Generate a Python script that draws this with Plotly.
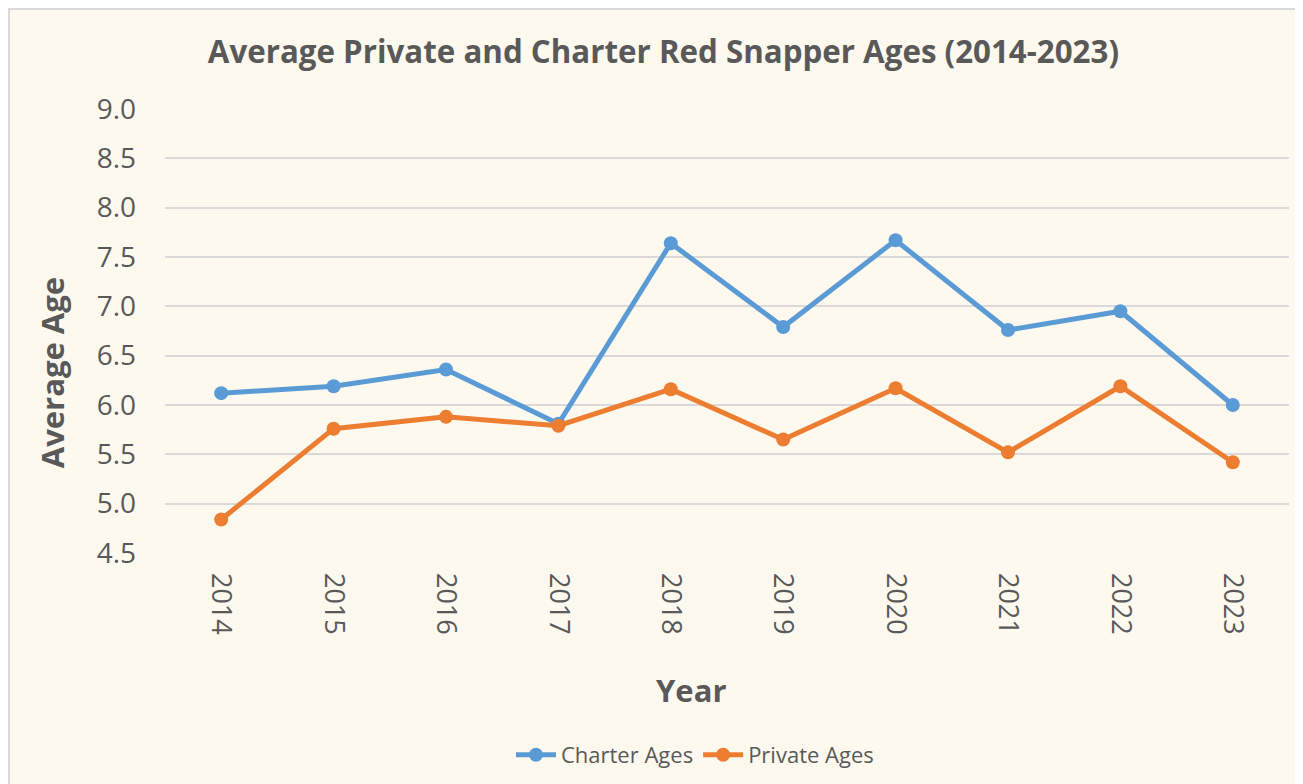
import plotly.graph_objects as graph_objects

years = ['2014', '2015', '2016', '2017', '2018', '2019', '2020', '2021', '2022', '2023']
charter_ages = [6.12, 6.19, 6.36, 5.81, 7.64, 6.79, 7.67, 6.76, 6.95, 6.00]
private_ages = [4.84, 5.76, 5.88, 5.79, 6.16, 5.65, 6.17, 5.52, 6.19, 5.42]
y_ticks = [4.5, 5.0, 5.5, 6.0, 6.5, 7.0, 7.5, 8.0, 8.5, 9.0]

font_family = 'Open Sans, Noto Sans, sans-serif'
text_color = '#595959'

figure = graph_objects.Figure()
figure.add_trace(graph_objects.Scatter(x = years, y = charter_ages, name = 'Charter Ages', mode = 'lines+markers',
                                       line = dict(color = '#5B9BD5', width = 5),
                                       marker = dict(color = '#5B9BD5', size = 14)))
figure.add_trace(graph_objects.Scatter(x = years, y = private_ages, name = 'Private Ages', mode = 'lines+markers',
                                       line = dict(color = '#ED7D31', width = 5),
                                       marker = dict(color = '#ED7D31', size = 14)))

# chart area with light border (like Excel)
figure.add_shape(type = 'rect', xref = 'paper', yref = 'paper', layer = 'below',
                 x0 = -0.1388, x1 = 1.03, y0 = -0.6, y1 = 1.2252,
                 fillcolor = '#FEF9EE', line = dict(color = '#D9D9D9', width = 2))

# axis titles as annotations, Excel places them off-centre
figure.add_annotation(text = '<b>Average Age</b>', xref = 'paper', yref = 'paper', x = -0.1005, y = 0.405,
                      xanchor = 'center', yanchor = 'middle', textangle = -90, showarrow = False,
                      font = dict(size = 31, color = text_color))
figure.add_annotation(text = '<b>Year</b>', xref = 'paper', yref = 'paper', x = 0.468, y = -0.3086,
                      xanchor = 'center', yanchor = 'middle', showarrow = False,
                      font = dict(size = 31, color = text_color))

# the page adds an 8px body margin, so margins are shifted by 8
figure.update_layout(
    width = 1303, height = 784,
    margin = dict(l = 157, r = 22, t = 101, b = 239),
    paper_bgcolor = 'white', plot_bgcolor = 'rgba(0,0,0,0)',
    font = dict(family = font_family, color = text_color),
    title = dict(text = '<b>Average Private and Charter Red Snapper Ages (2014-2023)</b>',
                 x = 0.503, xanchor = 'center', y = 0.944, yanchor = 'middle',
                 font = dict(size = 31.3, color = text_color)),
    legend = dict(orientation = 'h', x = 0.4715, xanchor = 'center', y = -0.455, yanchor = 'middle',
                  font = dict(size = 22, color = text_color), bgcolor = 'rgba(0,0,0,0)',
                  itemwidth = 40),
    showlegend = True,
)
figure.update_xaxes(type = 'category', range = [-0.5, 9.5], tickangle = 90, showgrid = False, showline = False,
                    automargin = False, ticks = '', tickfont = dict(size = 27, color = text_color),
                    ticklabelstandoff = 19)
figure.update_yaxes(range = [4.5, 9.0], tickvals = y_ticks, ticktext = ['{:.1f}'.format(v) for v in y_ticks],
                    showgrid = True, gridcolor = '#D9D9D9', gridwidth = 2, zeroline = False, automargin = False,
                    tickfont = dict(size = 28, color = text_color), ticklabelstandoff = 28)

figure.write_html('out.html')
